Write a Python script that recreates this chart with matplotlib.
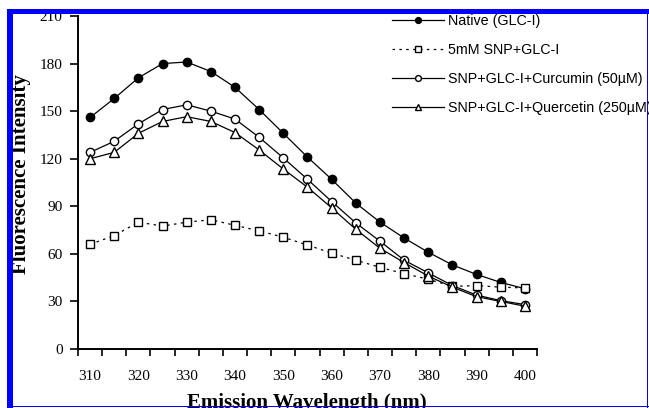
import matplotlib.pyplot as plt
from matplotlib.patches import Rectangle
from matplotlib.ticker import FixedLocator, NullFormatter

# emission wavelength (nm), one reading every 5 nm
wavelength = [310, 315, 320, 325, 330, 335, 340, 345, 350, 355,
              360, 365, 370, 375, 380, 385, 390, 395, 400]

native = [146, 158, 171, 180, 181, 175, 165, 151, 136, 121,
          107, 92, 80, 70, 61, 53, 47, 42, 38]
snp = [66, 71.5, 80, 77.5, 80, 81.5, 78, 74.5, 70.5, 65.5,
       60.5, 56, 51.5, 47.5, 44, 39.5, 40, 39, 38.5]
curcumin = [124, 131, 142, 151, 154, 150, 145, 133.5, 120.5, 107,
            93, 79.5, 68, 56, 48, 40, 34, 30.5, 28]
quercetin = [120, 124, 136, 143.5, 146.5, 143.5, 136.5, 125.5, 113.5, 102,
             89, 75.5, 63.5, 54.5, 46, 39, 33, 30, 27]

labels = ['Native (GLC-I)', '5mM SNP+GLC-I',
          'SNP+GLC-I+Curcumin (50\u00b5M)', 'SNP+GLC-I+Quercetin (250\u00b5M)']
xticks = [310, 320, 330, 340, 350, 360, 370, 380, 390, 400]
yticks = [0, 30, 60, 90, 120, 150, 180, 210]

W, H = 649, 408
fig = plt.figure(figsize=(W / 100, H / 100), dpi=100)
ax = fig.add_axes([78 / W, 1 - 349 / H, (537 - 78) / W, (349 - 16) / H])

lw = 0.9
ms = 6
ax.plot(wavelength, native, color='black', lw=lw, marker='o', ms=ms,
        mfc='black', mec='black', label=labels[0])
ax.plot(wavelength, snp, color='black', lw=lw, ls=(0, (2, 3.5)), marker='s',
        ms=ms - 0.5, mfc='white', mec='black', mew=1.0, label=labels[1])
ax.plot(wavelength, curcumin, color='black', lw=lw, marker='o', ms=ms,
        mfc='white', mec='black', mew=1.0, label=labels[2])
ax.plot(wavelength, quercetin, color='black', lw=lw, marker='^', ms=ms + 0.5,
        mfc='white', mec='black', mew=1.0, label=labels[3])

ax.set_xlim(307.5, 402.5)
ax.set_ylim(0, 210)
ax.spines['top'].set_visible(False)
ax.spines['right'].set_visible(False)
for s in ('left', 'bottom'):
    ax.spines[s].set_linewidth(1.4)

serif = 'Liberation Serif'
ax.set_yticks(yticks)
ax.set_yticklabels([str(v) for v in yticks], fontfamily=serif, fontsize=11)
ax.tick_params(axis='y', direction='out', length=6, width=1.2, pad=5)

# labels under the points, tick marks between categories
ax.set_xticks(xticks)
ax.set_xticklabels([str(v) for v in xticks], fontfamily=serif, fontsize=11)
ax.tick_params(axis='x', which='major', length=0, pad=15)
ax.xaxis.set_minor_locator(FixedLocator([307.5 + 5 * i for i in range(20)]))
ax.xaxis.set_minor_formatter(NullFormatter())
ax.tick_params(axis='x', which='minor', direction='out', length=5, width=1.2)

fig.text(21 / W, 1 - 174 / H, 'Fluorescence Intensity', rotation=90,
         ha='center', va='center', fontfamily=serif, fontweight='bold',
         fontsize=15)
fig.text(307 / W, 1 - 403 / H, 'Emission Wavelength (nm)', ha='center',
         va='center', fontfamily=serif, fontweight='bold', fontsize=15)

leg = ax.legend(loc='upper left', bbox_to_anchor=(392 / W, 1 - 14 / H),
                bbox_transform=fig.transFigure, frameon=False,
                prop={'family': 'Liberation Sans', 'size': 10.3},
                handlelength=3.6, handletextpad=0.3, labelspacing=1.05,
                borderpad=0, borderaxespad=0, markerscale=0.7)
leg.set_clip_on(False)

# blue frame around the picture
blue = (0, 0, 1)
for x0, y0, w, h in [(7.3, 9.3, 5.4, H - 9.3), (7.3, 9.3, W - 7.3, 5.0),
                     (646.7, 9.3, 1.7, H - 9.3), (7.3, 405.7, W - 7.3, 1.7)]:
    fig.patches.append(Rectangle((x0 / W, 1 - (y0 + h) / H), w / W, h / H,
                                 transform=fig.transFigure, color=blue,
                                 lw=0, zorder=10))

fig.savefig('out.png', dpi=100)
